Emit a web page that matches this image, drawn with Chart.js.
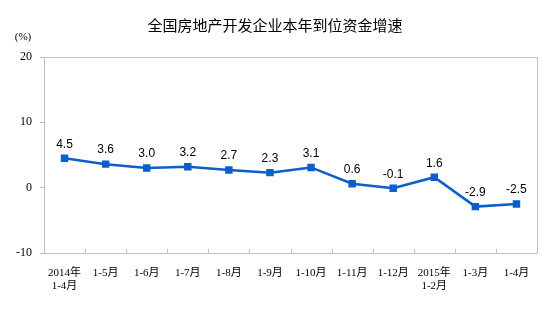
<!DOCTYPE html>
<html>
<head>
<meta charset="utf-8">
<script src="https://cdn.jsdelivr.net/npm/chart.js@4/dist/chart.umd.min.js"></script>
<style>
  html, body { margin: 0; padding: 0; background: #fff; }
  #wrap { width: 554px; height: 329px; }
</style>
</head>
<body>
<div id="wrap"><canvas id="c"></canvas></div>
<script>
const titleText = '全国房地产开发企业本年到位资金增速';
const unitText = '(%)';
const categories = [
  ['2014年', '1-4月'], '1-5月', '1-6月', '1-7月', '1-8月', '1-9月',
  '1-10月', '1-11月', '1-12月', ['2015年', '1-2月'], '1-3月', '1-4月'
];
const growth = [4.5, 3.6, 3.0, 3.2, 2.7, 2.3, 3.1, 0.6, -0.1, 1.6, -2.9, -2.5];
const yTicks = [-10, 0, 10, 20];

const lineColor = '#0a5fc8';
const frameColor = '#bfbfbf';

// frame, inner category ticks, title and value labels
const decorations = {
  id: 'decorations',
  afterDraw(chart) {
    const { ctx, chartArea: a } = chart;
    const x = chart.scales.x;
    ctx.save();
    ctx.strokeStyle = frameColor;
    ctx.lineWidth = 1;
    ctx.beginPath();
    ctx.moveTo(a.left + 0.5, a.top + 0.5);
    ctx.lineTo(a.right + 0.5, a.top + 0.5);
    ctx.lineTo(a.right + 0.5, a.bottom);
    ctx.stroke();
    for (let i = 1; i < categories.length; i++) {
      const px = Math.round((x.getPixelForValue(i - 1) + x.getPixelForValue(i)) / 2) + 0.5;
      ctx.beginPath();
      ctx.moveTo(px, a.bottom);
      ctx.lineTo(px, a.bottom - 4);
      ctx.stroke();
    }

    ctx.fillStyle = '#000';
    ctx.textAlign = 'center';
    ctx.textBaseline = 'middle';
    ctx.font = '15px "Noto Sans CJK SC"';
    ctx.fillText(titleText, 275, 25);
    ctx.font = '11px "Liberation Serif", "Noto Sans CJK SC"';
    ctx.fillText(unitText, 23, 37);

    ctx.font = '12px "Liberation Sans", Arial';
    const meta = chart.getDatasetMeta(0);
    meta.data.forEach((pt, i) => {
      ctx.fillText(growth[i].toFixed(1), pt.x, pt.y - 14);
    });
    ctx.restore();
  }
};

new Chart(document.getElementById('c'), {
  type: 'line',
  data: {
    labels: categories,
    datasets: [{
      data: growth,
      borderColor: lineColor,
      backgroundColor: lineColor,
      borderWidth: 2.5,
      pointStyle: 'rect',
      pointRadius: 3.5,
      pointHoverRadius: 3.5,
      tension: 0
    }]
  },
  options: {
    responsive: true,
    maintainAspectRatio: false,
    animation: false,
    layout: { padding: { top: 57, right: 17, left: 0, bottom: 0 } },
    plugins: { legend: { display: false }, tooltip: { enabled: false } },
    scales: {
      x: {
        offset: true,
        grid: { display: false },
        border: { color: frameColor },
        ticks: {
          color: '#000',
          padding: 6,
          maxRotation: 0,
          autoSkip: false,
          font: { family: '"Liberation Serif", "Noto Sans CJK SC"', size: 11, lineHeight: 1.15 }
        },
        afterFit(scale) { scale.height = 76; }
      },
      y: {
        min: -10,
        max: 20,
        afterBuildTicks(scale) { scale.ticks = yTicks.map(v => ({ value: v })); },
        grid: { drawOnChartArea: false, drawTicks: true, tickLength: 4, color: frameColor },
        border: { color: frameColor },
        ticks: {
          color: '#000',
          padding: 8,
          font: { family: '"Liberation Serif"', size: 12 }
        },
        afterFit(scale) { scale.width = 44; }
      }
    }
  },
  plugins: [decorations]
});
</script>
</body>
</html>
